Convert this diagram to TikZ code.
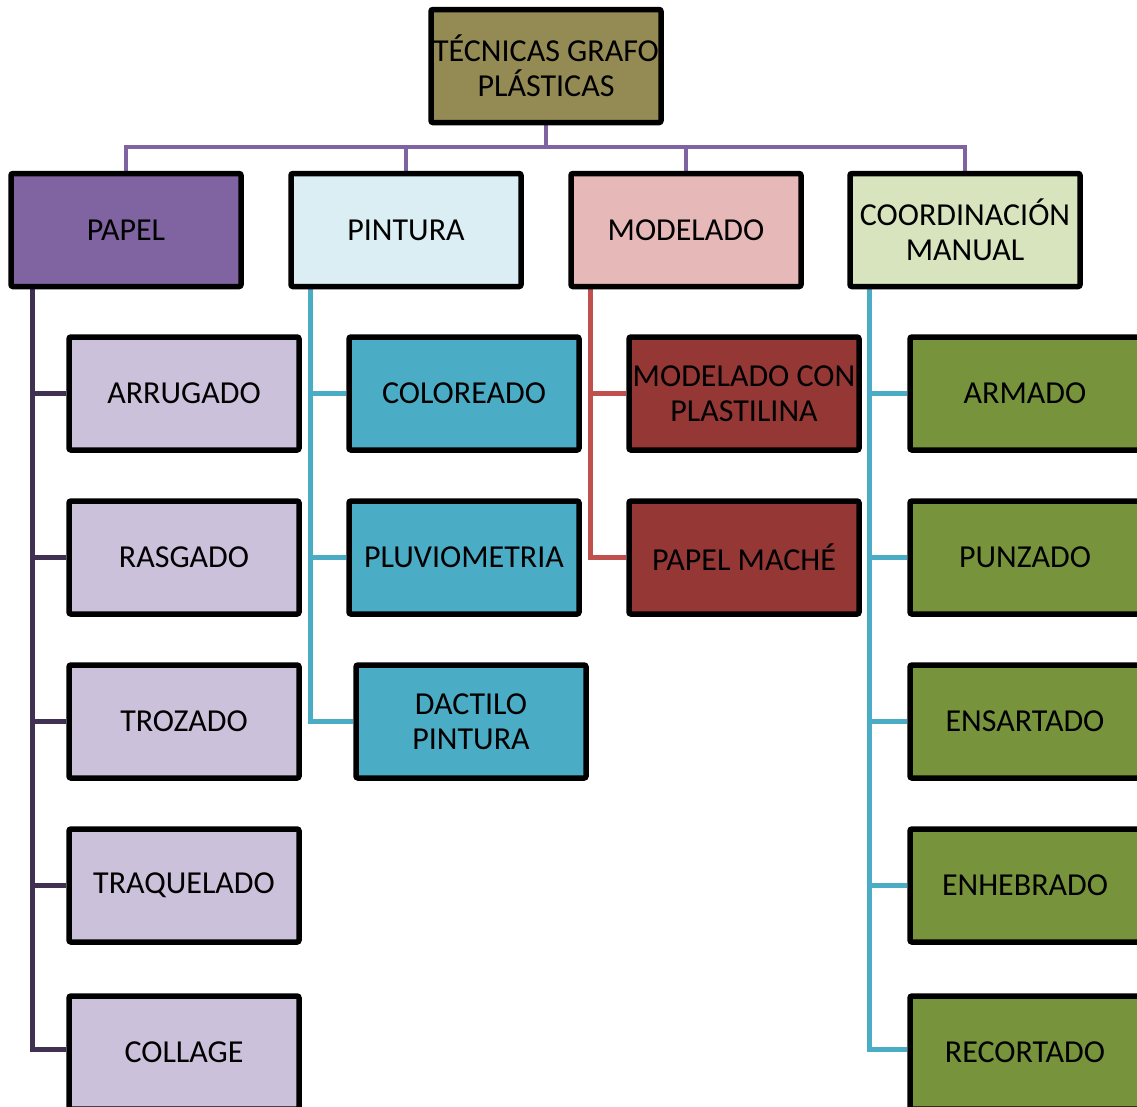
\documentclass[tikz,border=0pt]{standalone}
\usepackage{fontspec}
\setmainfont{Carlito}
\usetikzlibrary{backgrounds}

\definecolor{topfill}{HTML}{948A54}
\definecolor{papelfill}{HTML}{8064A2}
\definecolor{pinturafill}{HTML}{DAEEF3}
\definecolor{modeladofill}{HTML}{E6B9B8}
\definecolor{coordfill}{HTML}{D7E4BD}
\definecolor{papelsub}{HTML}{CCC1DA}
\definecolor{pinturasub}{HTML}{4BACC6}
\definecolor{modeladosub}{HTML}{953735}
\definecolor{coordsub}{HTML}{77933C}
\definecolor{busline}{HTML}{8064A2}
\definecolor{papelline}{HTML}{403152}
\definecolor{redline}{HTML}{C0504D}

\tikzset{
	box/.style={draw=black, line width=5.5pt, rounded corners=2pt, minimum width=230pt, minimum height=113pt,
		inner sep=0pt, align=center, text=black, font=\fontsize{32}{35}\selectfont},
	link/.style={line width=4.5pt},
	branch/.style={link, draw=#1},
}

\begin{document}
\begin{tikzpicture}[x=1pt, y=-1pt]
	\useasboundingbox (0,0) rectangle (1137,1106);
	\clip (0,0) rectangle (1137,1106);

	% --- root ---
	\node[box, fill=topfill] (root) at (546,66) {TÉCNICAS GRAFO\\PLÁSTICAS};

	% --- first level ---
	\node[box, fill=papelfill]    (papel)    at (126,230) {PAPEL};
	\node[box, fill=pinturafill]  (pintura)  at (406,230) {PINTURA};
	\node[box, fill=modeladofill] (modelado) at (686,230) {MODELADO};
	\node[box, fill=coordfill]    (coord)    at (965,230) {COORDINACIÓN\\MANUAL};

	% --- papel ---
	\node[box, fill=papelsub] (arrugado)   at (184,393.5)  {ARRUGADO};
	\node[box, fill=papelsub] (rasgado)    at (184,557.5)  {RASGADO};
	\node[box, fill=papelsub] (trozado)    at (184,721.5)  {TROZADO};
	\node[box, fill=papelsub] (traquelado) at (184,885.5)  {TRAQUELADO};
	\node[box, fill=papelsub] (collage)    at (184,1052.5) {COLLAGE};

	% --- pintura ---
	\node[box, fill=pinturasub] (coloreado)    at (464,393.5) {COLOREADO};
	\node[box, fill=pinturasub] (pluviometria) at (464,557.5) {PLUVIOMETRIA};
	\node[box, fill=pinturasub] (dactilo)      at (471,721.5) {DACTILO\\PINTURA};

	% --- modelado ---
	\node[box, fill=modeladosub] (plastilina) at (744,393.5) {MODELADO CON\\PLASTILINA};
	\node[box, fill=modeladosub] (mache)      at (744,557.5) {PAPEL MACHÉ};

	% --- coordinacion manual ---
	\node[box, fill=coordsub] (armado)     at (1025,393.5)  {ARMADO};
	\node[box, fill=coordsub] (punzado)    at (1025,557.5)  {PUNZADO};
	\node[box, fill=coordsub] (ensartado)  at (1025,721.5)  {ENSARTADO};
	\node[box, fill=coordsub] (enhebrado)  at (1025,885.5)  {ENHEBRADO};
	\node[box, fill=coordsub] (recortado)  at (1025,1052.5) {RECORTADO};

	\begin{scope}[on background layer]
		\coordinate (bus) at (546,147);
		\draw[branch=busline] (root.south) -- (bus);
		\foreach \n in {papel,pintura,modelado,coord}
			\draw[branch=busline] (bus) -| (\n.north);

		\foreach \n in {arrugado,rasgado,trozado,traquelado}
			\draw[branch=papelline] ([xshift=24pt]papel.south west) |- (\n.west);
		\draw[branch=papelline] ([xshift=24pt]papel.south west) |- ([yshift=3pt]collage.west);
		\foreach \n in {coloreado,pluviometria,dactilo}
			\draw[branch=pinturasub] ([xshift=22pt]pintura.south west) |- (\n.west);
		\foreach \n in {plastilina,mache}
			\draw[branch=redline] ([xshift=22pt]modelado.south west) |- (\n.west);
		\foreach \n in {armado,punzado,ensartado,enhebrado}
			\draw[branch=pinturasub] ([xshift=22pt]coord.south west) |- (\n.west);
		\draw[branch=pinturasub] ([xshift=22pt]coord.south west) |- ([yshift=3pt]recortado.west);
	\end{scope}
\end{tikzpicture}
\end{document}
